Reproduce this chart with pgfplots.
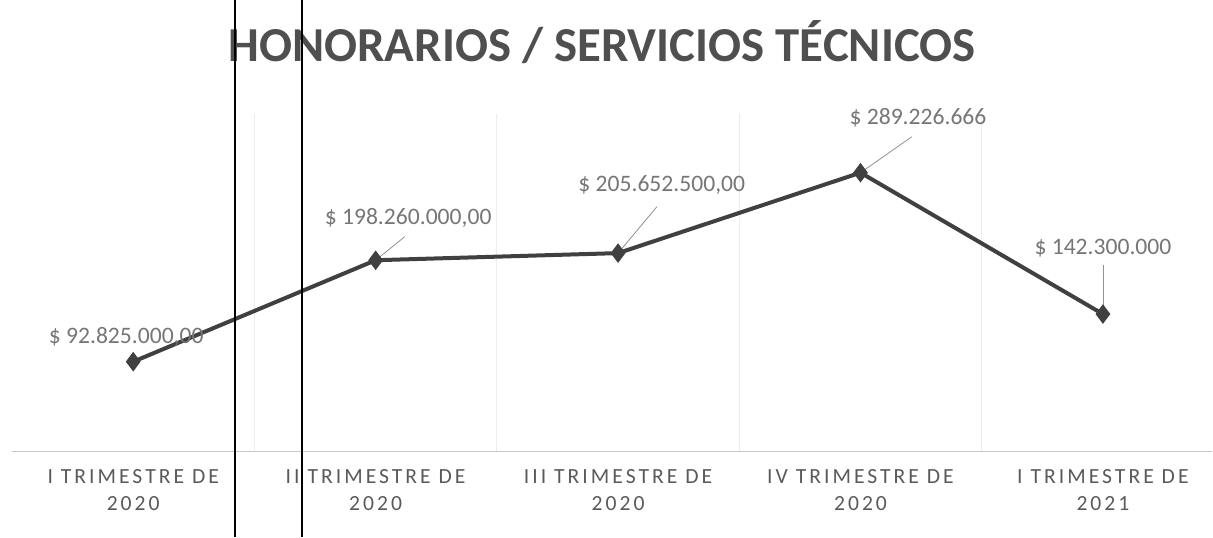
\documentclass[border=0pt]{standalone}
\usepackage{fontspec}
\setmainfont{Carlito}
\usepackage{pgfplots}
\pgfplotsset{compat=1.18}
\definecolor{ln}{HTML}{404040}
\definecolor{lbl}{HTML}{767676}
\definecolor{ttl}{HTML}{4F4F4F}
\definecolor{tck}{HTML}{5A5A5A}
\newfontfamily\tickfont[LetterSpace=14]{Carlito}
\begin{document}
\begin{tikzpicture}
\useasboundingbox (-6pt,-43pt) rectangle (600.5pt,225.5pt);
\begin{axis}[
  scale only axis, width=600pt, height=168.4pt,
  xmin=-0.5, xmax=4.45, ymin=0, ymax=350,
  axis x line*=bottom, axis y line=none,
  x axis line style={draw=black!22, -},
  xtick={0,1,2,3,4},
  xticklabels={{I TRIMESTRE DE\\2020},{II TRIMESTRE DE\\2020},{III TRIMESTRE DE\\2020},{IV TRIMESTRE DE\\2020},{I TRIMESTRE DE\\2021}},
  xtick style={draw=none},
  minor xtick={0.5,1.5,2.5,3.5},
  minor tick length=0pt,
  xminorgrids=true,
  minor grid style={black!7},
  ytick=\empty,
  xticklabel style={font=\tickfont\fontsize{10.8}{13.5}\selectfont, text=tck, align=center, yshift=-5.5pt},
  clip=false,
]
\addplot[color=ln, line width=2pt, mark=diamond*, mark size=4.5pt, mark options={fill=ln, draw=ln, line width=0.5pt}]
  coordinates {(0,92.825) (1,198.26) (2,205.6525) (3,289.226666) (4,142.3)};
\draw[lbl!80, line width=0.4pt] (axis cs:1,198.26) -- (axis cs:1.12,222.7);
\draw[lbl!80, line width=0.4pt] (axis cs:2,205.6525) -- (axis cs:2.16,253.8);
\draw[lbl!80, line width=0.4pt] (axis cs:3,289.226666) -- (axis cs:3.212,326.6);
\draw[lbl!80, line width=0.4pt] (axis cs:4,142.3) -- (axis cs:4,193.6);
\begin{scope}[every node/.style={font=\fontsize{11.8}{13}\selectfont, text=lbl}]
\node at (axis cs:-0.029,119) {\$ 92.825.000,00};
\node at (axis cs:1.134,242.4) {\$ 198.260.000,00};
\node at (axis cs:2.18,276.7) {\$ 205.652.500,00};
\node at (axis cs:3.237,346.4) {\$ 289.226.666};
\node at (axis cs:4,211.3) {\$ 142.300.000};
\end{scope}
\end{axis}
\node[font=\bfseries\fontsize{24.4}{29}\selectfont, text=ttl] at (295pt,204.5pt) {HONORARIOS / SERVICIOS TÉCNICOS};
\draw[black, line width=0.8pt] (111.5pt,-43pt) -- (111.5pt,225.5pt);
\draw[black, line width=0.8pt] (145pt,-43pt) -- (145pt,225.5pt);
\end{tikzpicture}
\end{document}
